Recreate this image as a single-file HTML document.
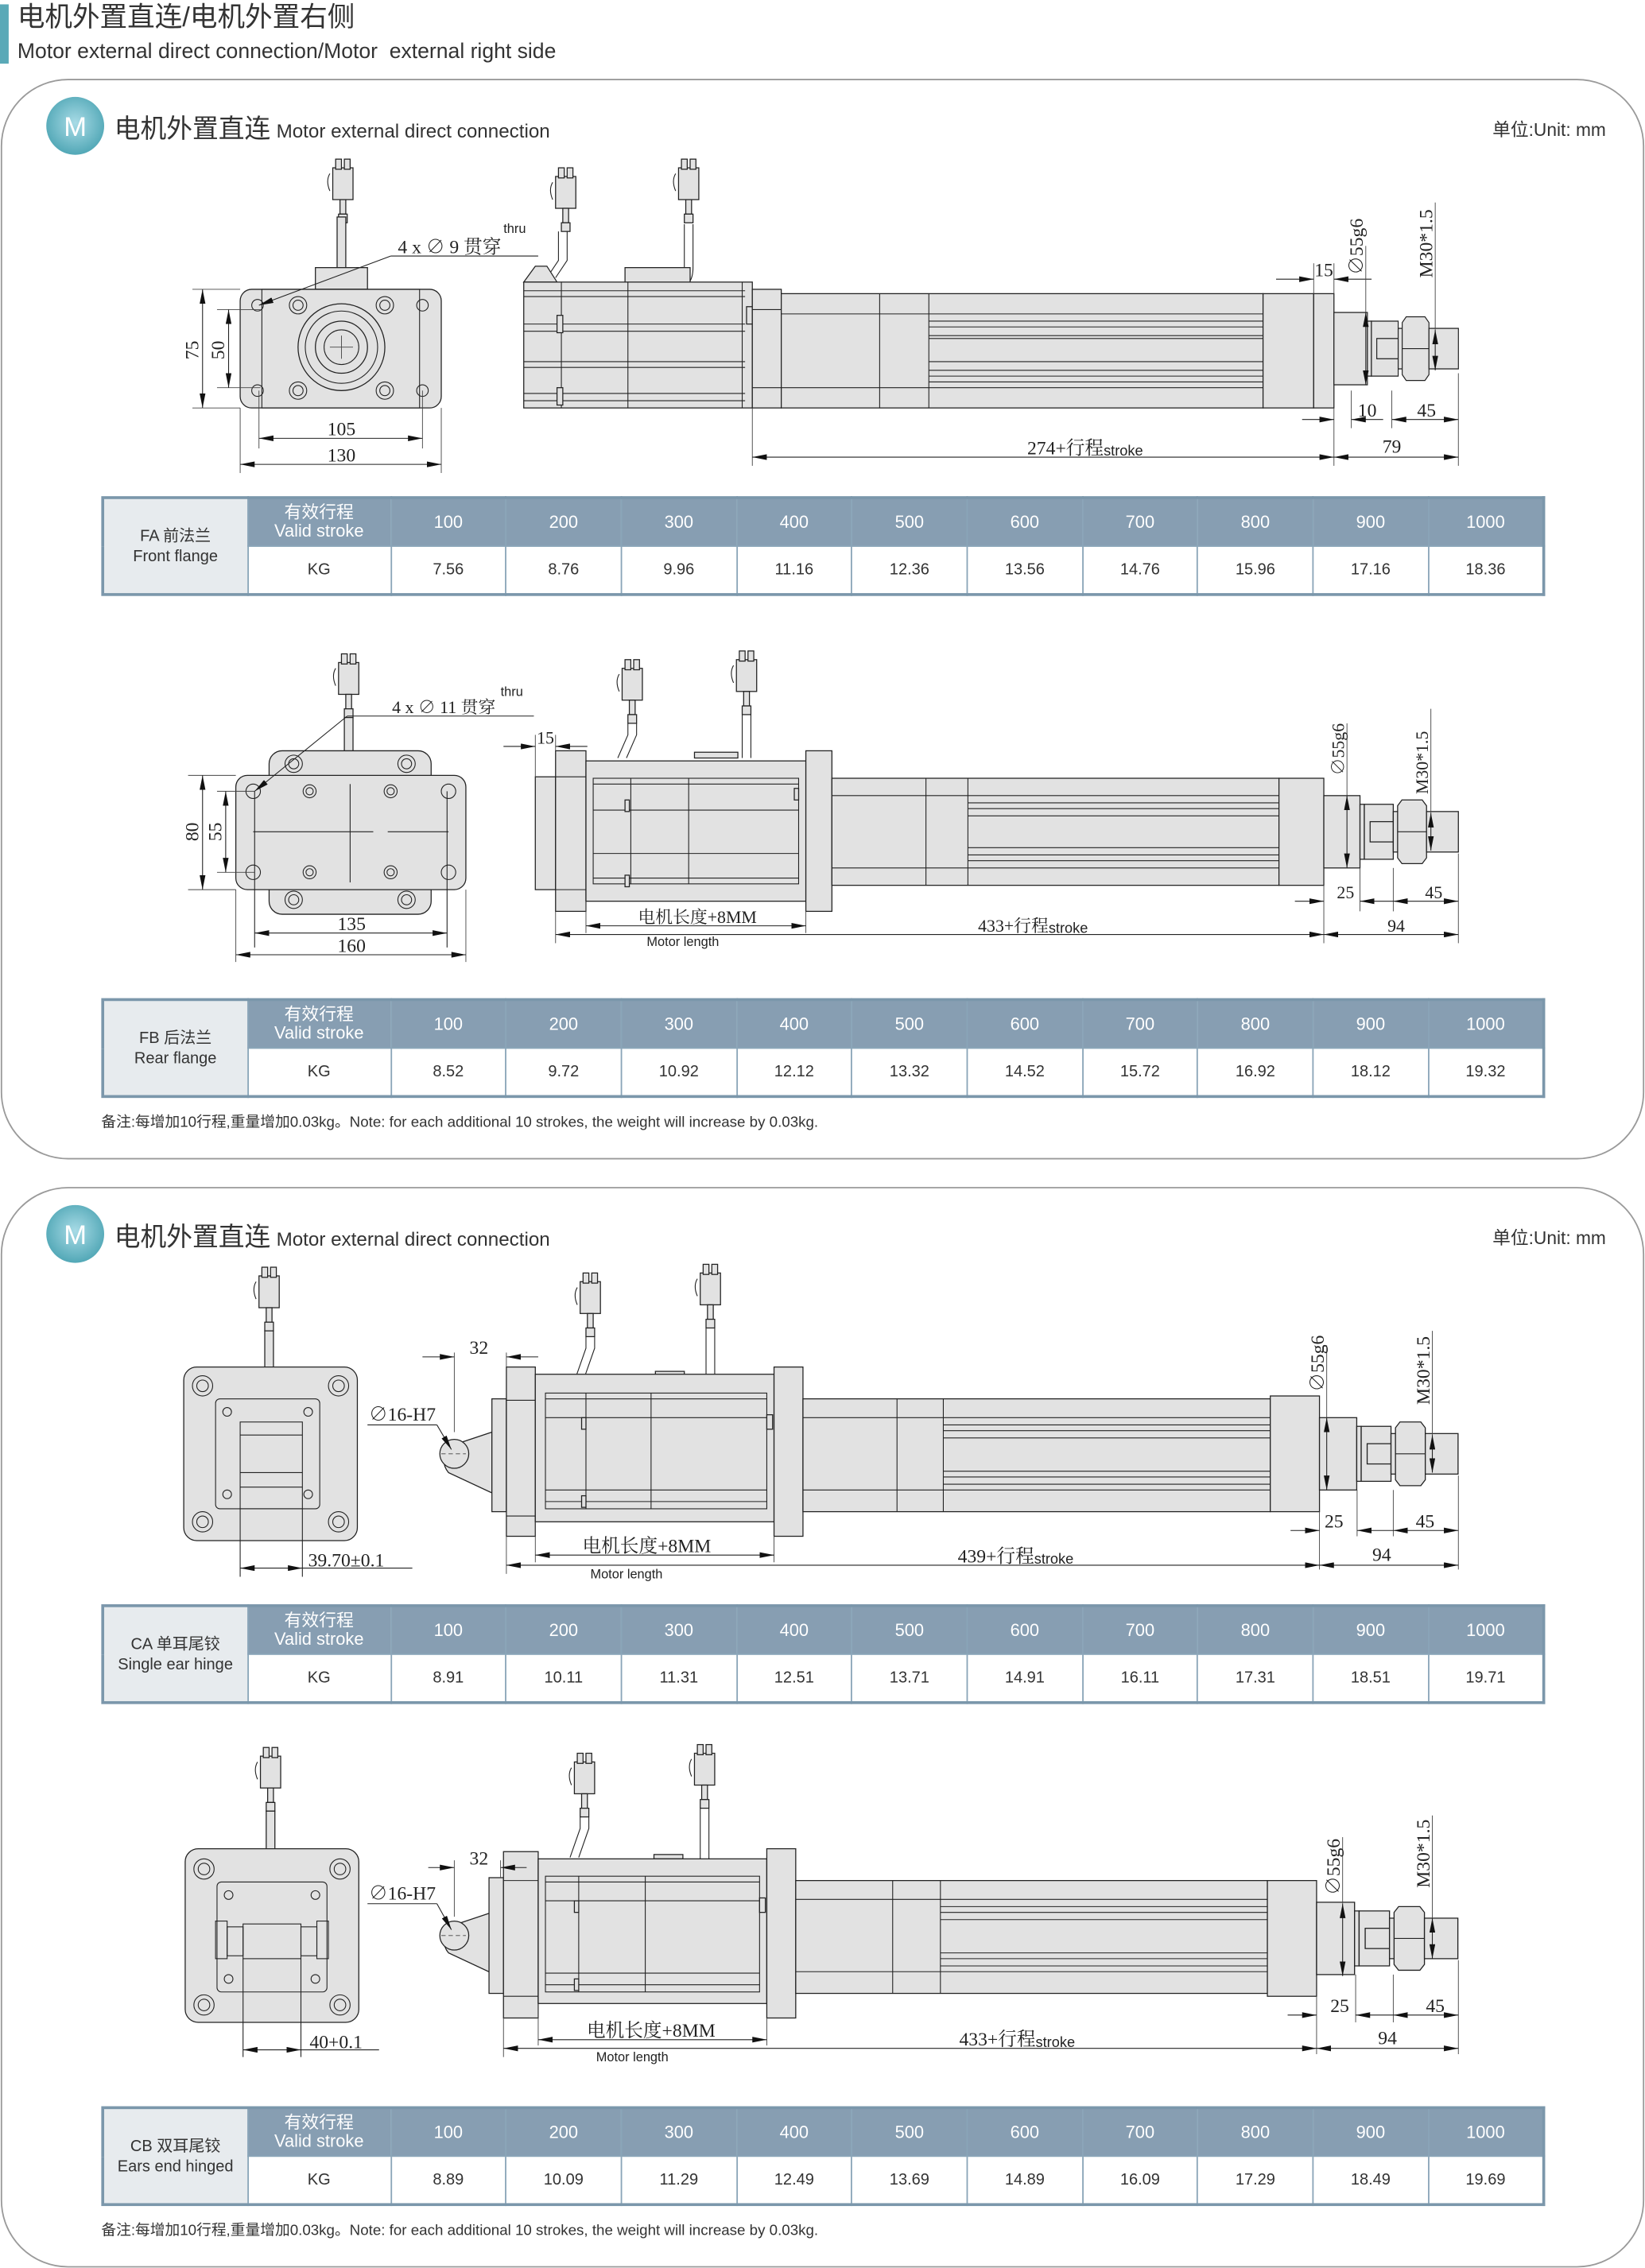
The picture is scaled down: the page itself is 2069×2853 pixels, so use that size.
<!DOCTYPE html>
<html><head><meta charset="utf-8">
<style>
html,body{margin:0;padding:0;background:#fff;}
body{width:2069px;height:2853px;overflow:hidden;position:relative;}
#w{position:absolute;left:0;top:0;width:1137px;height:1568px;transform:scale(1.81971);transform-origin:0 0;font-family:"Liberation Sans","Noto Sans CJK SC",sans-serif;color:#333;}
.abs{position:absolute;}
table.t{position:absolute;left:70px;width:996px;height:66px;border-collapse:collapse;table-layout:fixed;font-family:"Liberation Sans","Noto Sans CJK SC",sans-serif;}
table.t td{border:1px solid #8aa5b8;text-align:center;font-size:11px;padding:0;color:#333;}
table.t tr.h td{background:#879eb2;color:#fff;height:32px;font-size:12px;}
table.t tr.b td{background:#fff;height:32px;}
table.t tr.h td.f{background:#e7ebee;color:#333;font-size:11px;line-height:14px;border-left:2px solid #7b97ab;}
table.t{border-top:2px solid #7b97ab;border-bottom:2px solid #7b97ab;border-right:2px solid #7b97ab;}
table.t td.vs{line-height:13px;font-size:11px;}
svg text{font-family:"Liberation Serif","Noto Serif CJK SC",serif;fill:#222;}
.s{fill:#e2e2e2;stroke:#222;stroke-width:.7;}
.l{stroke:#222;stroke-width:.6;fill:none;}
.g{stroke:#444;stroke-width:.5;fill:none;}
</style></head><body><div id="w">

<div class="abs" style="left:0;top:3px;width:6px;height:41px;background:#5aa9b7"></div>
<div class="abs" style="left:12px;top:1px;font-size:19px;line-height:24px;font-family:'Liberation Sans','Noto Sans CJK SC',sans-serif;color:#333">电机外置直连/电机外置右侧</div>
<div class="abs" style="left:12px;top:27px;font-size:14.6px;line-height:18px;color:#333">Motor external direct connection/Motor&nbsp; external right side</div>

<svg class="abs" style="left:0;top:0" width="1137" height="1568" viewBox="0 0 1137 1568">
<defs>
<marker id="a" viewBox="0 0 10 4" refX="10" refY="2" markerWidth="10" markerHeight="4" markerUnits="userSpaceOnUse" orient="auto-start-reverse"><path d="M0,0L10,2L0,4z" fill="#111"/></marker>
<radialGradient id="cg" cx="50%" cy="45%" r="60%"><stop offset="0" stop-color="#a8dbe6"/><stop offset="1" stop-color="#4aa3b2"/></radialGradient>
<g id="conn">
 <rect x="-7" y="0" width="14" height="22" class="s"/>
 <rect x="-5" y="-6" width="4" height="7" class="s"/><rect x="1" y="-6" width="4" height="7" class="s"/>
 <path d="M-9,4 q-3,5 0,12" class="l"/>
 <rect x="-2" y="22" width="4" height="10" class="s"/>
 <rect x="-3" y="32" width="6" height="6" class="s"/>
</g>
<g id="rodend">
 <rect x="0" y="-25" width="25" height="50" class="s"/>
 <rect x="25" y="-19" width="3" height="38" class="s"/>
 <rect x="28" y="-19" width="20" height="38" class="s"/>
 <rect x="32" y="-7" width="16" height="14" class="s"/>
 <rect x="48" y="-14" width="4" height="28" class="s"/>
 <path d="M54,-22h14l3,4v36l-3,4h-14l-3,-4v-36z" class="s"/><line x1="51" y1="0" x2="71" y2="0" class="l"/>
 <rect x="71" y="-14" width="22" height="28" class="s"/>
</g>
</defs>

<rect x="1" y="55" width="1135" height="746" rx="46" fill="none" stroke="#9a9a9a" stroke-width="1"/>
<rect x="1" y="821" width="1135" height="746" rx="46" fill="none" stroke="#9a9a9a" stroke-width="1"/>

<circle cx="52" cy="87" r="20" fill="url(#cg)"/>
<text x="52" y="94" text-anchor="middle" style="font-family:'Liberation Sans',sans-serif;fill:#fff;font-size:19px">M</text>
<text x="79" y="95" style="font-family:'Liberation Sans','Noto Sans CJK SC',sans-serif;font-size:18px;fill:#333">电机外置直连</text>
<text x="191" y="95" style="font-family:'Liberation Sans',sans-serif;font-size:13.3px;fill:#333">Motor external direct connection</text>
<text x="1110" y="94" text-anchor="end" style="font-family:'Liberation Sans','Noto Sans CJK SC',sans-serif;font-size:12.5px;fill:#333">单位:Unit: mm</text>

<circle cx="52" cy="853" r="20" fill="url(#cg)"/>
<text x="52" y="860" text-anchor="middle" style="font-family:'Liberation Sans',sans-serif;fill:#fff;font-size:19px">M</text>
<text x="79" y="861" style="font-family:'Liberation Sans','Noto Sans CJK SC',sans-serif;font-size:18px;fill:#333">电机外置直连</text>
<text x="191" y="861" style="font-family:'Liberation Sans',sans-serif;font-size:13.3px;fill:#333">Motor external direct connection</text>
<text x="1110" y="860" text-anchor="end" style="font-family:'Liberation Sans','Noto Sans CJK SC',sans-serif;font-size:12.5px;fill:#333">单位:Unit: mm</text>

<!-- ============ DRAWING 1: FA ============ -->
<use href="#conn" x="237" y="116"/>
<rect x="233" y="150" width="6" height="35" class="s"/>
<rect x="218" y="185" width="36" height="15" class="s"/>
<rect x="166" y="200" width="139" height="82" rx="8" class="s"/>
<rect x="181" y="200" width="109" height="82" class="l"/>
<circle cx="178" cy="211" r="4" class="l"/><circle cx="292" cy="211" r="4" class="l"/><circle cx="178" cy="270" r="4" class="l"/><circle cx="292" cy="270" r="4" class="l"/>
<g class="l"><circle cx="206" cy="211" r="6"/><circle cx="206" cy="211" r="3.5"/><circle cx="266" cy="211" r="6"/><circle cx="266" cy="211" r="3.5"/><circle cx="206" cy="270" r="6"/><circle cx="206" cy="270" r="3.5"/><circle cx="266" cy="270" r="6"/><circle cx="266" cy="270" r="3.5"/></g>
<circle cx="236" cy="240" r="30" class="s"/><circle cx="236" cy="240" r="25" class="l"/><circle cx="236" cy="240" r="18" class="s"/><circle cx="236" cy="240" r="12" class="l"/>
<line x1="236" y1="232" x2="236" y2="248" class="g"/><line x1="228" y1="240" x2="244" y2="240" class="g"/>
<line x1="179" y1="211" x2="270" y2="177" class="l" marker-start="url(#a)"/><line x1="270" y1="177" x2="372" y2="177" class="l"/>
<text x="275" y="175" font-size="13">4 x ∅ 9 贯穿</text><text x="348" y="161" font-size="9" style="font-family:'Liberation Sans',sans-serif">thru</text>
<line x1="133" y1="200" x2="166" y2="200" class="g"/><line x1="133" y1="282" x2="166" y2="282" class="g"/>
<line x1="140" y1="200" x2="140" y2="282" class="l" marker-start="url(#a)" marker-end="url(#a)"/>
<text x="137" y="242" font-size="13" transform="rotate(-90 137 242)" text-anchor="middle">75</text>
<line x1="150" y1="214" x2="180" y2="214" class="g"/><line x1="150" y1="268" x2="180" y2="268" class="g"/>
<line x1="158" y1="214" x2="158" y2="268" class="l" marker-start="url(#a)" marker-end="url(#a)"/>
<text x="155" y="242" font-size="13" transform="rotate(-90 155 242)" text-anchor="middle">50</text>
<line x1="179" y1="270" x2="179" y2="310" class="g"/><line x1="292" y1="270" x2="292" y2="310" class="g"/>
<line x1="179" y1="303" x2="292" y2="303" class="l" marker-start="url(#a)" marker-end="url(#a)"/><text x="236" y="301" font-size="13" text-anchor="middle">105</text>
<line x1="166" y1="282" x2="166" y2="327" class="g"/><line x1="305" y1="282" x2="305" y2="327" class="g"/>
<line x1="166" y1="321" x2="305" y2="321" class="l" marker-start="url(#a)" marker-end="url(#a)"/><text x="236" y="319" font-size="13" text-anchor="middle">130</text>

<use href="#conn" x="391" y="122"/>
<path d="M386,160 v20 l-8,12 M392,160 v20 l-8,12" class="l"/>
<use href="#conn" x="476" y="116"/>
<path d="M473,155 v30 q0,8 -8,10 M479,155 v30 q0,14 -12,15" class="l"/>
<path d="M362,195 l8,-11 h8 l7,11z" class="s"/>
<rect x="432" y="185" width="45" height="11" class="s"/>
<rect x="362" y="195" width="158" height="87" class="s"/>
<g class="l"><line x1="362" y1="201" x2="515" y2="201"/><line x1="362" y1="205" x2="515" y2="205"/><line x1="362" y1="224" x2="515" y2="224"/><line x1="362" y1="229" x2="515" y2="229"/><line x1="362" y1="250" x2="515" y2="250"/><line x1="362" y1="254" x2="515" y2="254"/><line x1="362" y1="272" x2="515" y2="272"/><line x1="362" y1="277" x2="515" y2="277"/><line x1="388" y1="195" x2="388" y2="282"/><line x1="434" y1="195" x2="434" y2="282"/><line x1="513" y1="195" x2="513" y2="282"/></g>
<rect x="385" y="218" width="4" height="12" class="s"/><rect x="385" y="268" width="4" height="12" class="s"/><rect x="516" y="212" width="4" height="12" class="s"/>
<rect x="520" y="200" width="20" height="82" class="s"/><line x1="520" y1="214" x2="540" y2="214" class="l"/><line x1="520" y1="268" x2="540" y2="268" class="l"/>
<rect x="540" y="203" width="333" height="79" class="s"/>
<g class="l"><line x1="540" y1="217" x2="873" y2="217"/><line x1="540" y1="268" x2="873" y2="268"/><line x1="608" y1="203" x2="608" y2="282"/><line x1="642" y1="203" x2="642" y2="282"/>
<line x1="642" y1="222" x2="873" y2="222"/><line x1="642" y1="226" x2="873" y2="226"/><line x1="642" y1="232" x2="873" y2="232"/><line x1="642" y1="234" x2="873" y2="234"/><line x1="642" y1="250" x2="873" y2="250"/><line x1="642" y1="256" x2="873" y2="256"/><line x1="642" y1="260" x2="873" y2="260"/><line x1="642" y1="264" x2="873" y2="264"/></g>
<rect x="873" y="203" width="35" height="79" class="s"/><rect x="908" y="203" width="14" height="79" class="s"/>
<g transform="translate(922,241) scale(0.925,1)"><use href="#rodend"/></g>
<line x1="908" y1="182" x2="908" y2="203" class="g"/><line x1="922" y1="182" x2="922" y2="203" class="g"/>
<line x1="882" y1="193" x2="908" y2="193" class="l" marker-end="url(#a)"/><line x1="948" y1="193" x2="922" y2="193" class="l" marker-end="url(#a)"/><text x="915" y="191" font-size="13" text-anchor="middle">15</text>
<line x1="944" y1="216" x2="944" y2="266" class="l" marker-start="url(#a)" marker-end="url(#a)"/>
<line x1="944" y1="216" x2="944" y2="170" class="g"/>
<text x="942" y="190" font-size="13" transform="rotate(-90 942 190)">∅55g6</text>
<line x1="992" y1="228" x2="992" y2="256" class="l" marker-start="url(#a)" marker-end="url(#a)"/><line x1="992" y1="140" x2="992" y2="228" class="g"/>
<text x="990" y="192" font-size="13" transform="rotate(-90 990 192)">M30*1.5</text>
<line x1="922" y1="282" x2="922" y2="322" class="g"/><line x1="934" y1="270" x2="934" y2="296" class="g"/><line x1="962" y1="270" x2="962" y2="296" class="g"/><line x1="1008" y1="258" x2="1008" y2="322" class="g"/>
<line x1="900" y1="290" x2="922" y2="290" class="l" marker-end="url(#a)"/><line x1="956" y1="290" x2="934" y2="290" class="l" marker-end="url(#a)"/><text x="945" y="288" font-size="13" text-anchor="middle">10</text>
<line x1="962" y1="290" x2="1008" y2="290" class="l" marker-start="url(#a)" marker-end="url(#a)"/><text x="986" y="288" font-size="13" text-anchor="middle">45</text>
<line x1="520" y1="282" x2="520" y2="322" class="g"/>
<line x1="520" y1="316" x2="922" y2="316" class="l" marker-start="url(#a)" marker-end="url(#a)"/><line x1="922" y1="316" x2="1008" y2="316" class="l" marker-start="url(#a)" marker-end="url(#a)"/>
<text x="710" y="314" font-size="13">274+行程<tspan font-size="10" style="font-family:'Liberation Sans',sans-serif" dy="1">stroke</tspan></text>
<text x="962" y="313" font-size="13" text-anchor="middle">79</text>

<!-- ============ DRAWING 2: FB ============ -->
<use href="#conn" x="241" y="458"/>
<rect x="238" y="496" width="6" height="24" class="s"/>
<rect x="186" y="519" width="112" height="113" rx="9" class="s"/>
<rect x="163" y="536" width="159" height="79" rx="8" class="s"/>
<g class="l"><circle cx="203" cy="528" r="6"/><circle cx="203" cy="528" r="3.5"/><circle cx="281" cy="528" r="6"/><circle cx="281" cy="528" r="3.5"/><circle cx="203" cy="622" r="6"/><circle cx="203" cy="622" r="3.5"/><circle cx="281" cy="622" r="6"/><circle cx="281" cy="622" r="3.5"/>
<circle cx="175" cy="547" r="5"/><circle cx="310" cy="547" r="5"/><circle cx="175" cy="603" r="5"/><circle cx="310" cy="603" r="5"/>
<circle cx="214" cy="547" r="4.5"/><circle cx="270" cy="547" r="4.5"/><circle cx="214" cy="603" r="4.5"/><circle cx="270" cy="603" r="4.5"/>
<circle cx="214" cy="547" r="2.5"/><circle cx="270" cy="547" r="2.5"/><circle cx="214" cy="603" r="2.5"/><circle cx="270" cy="603" r="2.5"/>
<line x1="242" y1="542" x2="242" y2="610"/><line x1="175" y1="575" x2="258" y2="575"/><line x1="268" y1="575" x2="310" y2="575"/>
<line x1="176" y1="547" x2="176" y2="655"/><line x1="309" y1="547" x2="309" y2="655"/></g>
<line x1="176" y1="547" x2="240" y2="495" class="l" marker-start="url(#a)"/><line x1="240" y1="495" x2="369" y2="495" class="l"/>
<text x="271" y="493" font-size="12">4 x ∅ 11 贯穿</text><text x="346" y="481" font-size="9" style="font-family:'Liberation Sans',sans-serif">thru</text>
<line x1="130" y1="536" x2="163" y2="536" class="g"/><line x1="130" y1="615" x2="163" y2="615" class="g"/><line x1="150" y1="547" x2="176" y2="547" class="g"/><line x1="150" y1="603" x2="176" y2="603" class="g"/>
<line x1="140" y1="536" x2="140" y2="615" class="l" marker-start="url(#a)" marker-end="url(#a)"/><text x="137" y="575" font-size="13" transform="rotate(-90 137 575)" text-anchor="middle">80</text>
<line x1="156" y1="547" x2="156" y2="603" class="l" marker-start="url(#a)" marker-end="url(#a)"/><text x="153" y="575" font-size="13" transform="rotate(-90 153 575)" text-anchor="middle">55</text>
<line x1="176" y1="645" x2="309" y2="645" class="l" marker-start="url(#a)" marker-end="url(#a)"/><text x="243" y="643" font-size="13" text-anchor="middle">135</text>
<line x1="163" y1="615" x2="163" y2="665" class="g"/><line x1="322" y1="615" x2="322" y2="665" class="g"/>
<line x1="163" y1="660" x2="322" y2="660" class="l" marker-start="url(#a)" marker-end="url(#a)"/><text x="243" y="658" font-size="13" text-anchor="middle">160</text>

<use href="#conn" x="437" y="462"/>
<path d="M434,500 v8 l-7,16 M440,500 v8 l-7,16" class="l"/>
<use href="#conn" x="516" y="456"/>
<path d="M513,494 v30 M519,494 v30" class="l"/>
<rect x="480" y="520" width="30" height="4" class="s"/>
<rect x="370" y="537" width="14" height="78" class="s"/>
<rect x="384" y="519" width="21" height="111" class="s"/>
<rect x="405" y="526" width="152" height="97" class="s"/>
<g class="l"><rect x="410" y="538" width="142" height="73"/><line x1="410" y1="542" x2="552" y2="542"/><line x1="410" y1="560" x2="552" y2="560"/><line x1="410" y1="590" x2="552" y2="590"/><line x1="410" y1="607" x2="552" y2="607"/><line x1="436" y1="538" x2="436" y2="611"/><line x1="476" y1="538" x2="476" y2="611"/><line x1="384" y1="537" x2="405" y2="537"/><line x1="384" y1="615" x2="405" y2="615"/></g>
<rect x="432" y="553" width="3" height="8" class="s"/><rect x="432" y="605" width="3" height="8" class="s"/><rect x="549" y="545" width="3" height="8" class="s"/>
<rect x="557" y="519" width="18" height="111" class="s"/>
<rect x="575" y="538" width="309" height="74" class="s"/>
<g class="l"><line x1="575" y1="550" x2="884" y2="550"/><line x1="575" y1="600" x2="884" y2="600"/><line x1="640" y1="538" x2="640" y2="612"/><line x1="669" y1="538" x2="669" y2="612"/>
<line x1="669" y1="555" x2="884" y2="555"/><line x1="669" y1="559" x2="884" y2="559"/><line x1="669" y1="564" x2="884" y2="564"/><line x1="669" y1="586" x2="884" y2="586"/><line x1="669" y1="591" x2="884" y2="591"/><line x1="669" y1="595" x2="884" y2="595"/></g>
<rect x="884" y="538" width="31" height="74" class="s"/>
<use href="#rodend" x="915" y="575"/>
<line x1="370" y1="508" x2="370" y2="537" class="g"/><line x1="384" y1="508" x2="384" y2="519" class="g"/>
<line x1="348" y1="516" x2="370" y2="516" class="l" marker-end="url(#a)"/><line x1="406" y1="516" x2="384" y2="516" class="l" marker-end="url(#a)"/><text x="377" y="514" font-size="12" text-anchor="middle">15</text>
<line x1="931" y1="550" x2="931" y2="600" class="l" marker-start="url(#a)" marker-end="url(#a)"/><line x1="931" y1="500" x2="931" y2="550" class="g"/>
<text x="929" y="536" font-size="12" transform="rotate(-90 929 536)">∅55g6</text>
<line x1="989" y1="562" x2="989" y2="588" class="l" marker-start="url(#a)" marker-end="url(#a)"/><line x1="989" y1="490" x2="989" y2="562" class="g"/>
<text x="987" y="549" font-size="12" transform="rotate(-90 987 549)">M30*1.5</text>
<line x1="915" y1="612" x2="915" y2="652" class="g"/><line x1="940" y1="600" x2="940" y2="630" class="g"/><line x1="963" y1="600" x2="963" y2="630" class="g"/><line x1="1008" y1="590" x2="1008" y2="652" class="g"/>
<line x1="895" y1="623" x2="915" y2="623" class="l" marker-end="url(#a)"/><line x1="940" y1="623" x2="963" y2="623" class="l" marker-start="url(#a)"/><text x="930" y="621" font-size="12" text-anchor="middle">25</text>
<line x1="963" y1="623" x2="1008" y2="623" class="l" marker-start="url(#a)" marker-end="url(#a)"/><text x="991" y="621" font-size="12" text-anchor="middle">45</text>
<line x1="384" y1="630" x2="384" y2="652" class="g"/><line x1="405" y1="623" x2="405" y2="645" class="g"/><line x1="557" y1="630" x2="557" y2="645" class="g"/>
<line x1="405" y1="640" x2="557" y2="640" class="l" marker-start="url(#a)" marker-end="url(#a)"/><text x="482" y="638" font-size="12" text-anchor="middle">电机长度+8MM</text>
<text x="472" y="654" font-size="9" text-anchor="middle" style="font-family:'Liberation Sans',sans-serif">Motor length</text>
<line x1="384" y1="646" x2="915" y2="646" class="l" marker-start="url(#a)" marker-end="url(#a)"/><line x1="915" y1="646" x2="1008" y2="646" class="l" marker-start="url(#a)" marker-end="url(#a)"/>
<text x="676" y="644" font-size="12">433+行程<tspan font-size="10" style="font-family:'Liberation Sans',sans-serif" dy="1">stroke</tspan></text>
<text x="965" y="644" font-size="12" text-anchor="middle">94</text>

<!-- ============ DRAWING 3: CA ============ -->
<use href="#conn" x="186" y="882"/>
<rect x="183" y="920" width="6" height="26" class="s"/>
<rect x="127" y="945" width="120" height="120" rx="9" class="s"/>
<g class="l"><circle cx="140" cy="958" r="7"/><circle cx="140" cy="958" r="4"/><circle cx="234" cy="958" r="7"/><circle cx="234" cy="958" r="4"/><circle cx="140" cy="1052" r="7"/><circle cx="140" cy="1052" r="4"/><circle cx="234" cy="1052" r="7"/><circle cx="234" cy="1052" r="4"/>
<rect x="149" y="967" width="72" height="76" rx="3"/><circle cx="157" cy="976" r="3"/><circle cx="213" cy="976" r="3"/><circle cx="157" cy="1033" r="3"/><circle cx="213" cy="1033" r="3"/>
<rect x="166" y="983" width="43" height="60"/><line x1="166" y1="992" x2="209" y2="992"/><line x1="166" y1="1018" x2="209" y2="1018"/><line x1="166" y1="1028" x2="209" y2="1028"/>
<line x1="166" y1="1043" x2="166" y2="1090"/><line x1="209" y1="1043" x2="209" y2="1090"/></g>
<line x1="166" y1="1084" x2="209" y2="1084" class="l" marker-start="url(#a)" marker-end="url(#a)"/><line x1="209" y1="1084" x2="285" y2="1084" class="l"/>
<text x="213" y="1083" font-size="13">39.70±0.1</text>

<use href="#conn" x="408" y="886"/>
<path d="M405,924 v8 l-7,20 M411,924 v8 l-7,20" class="l"/>
<use href="#conn" x="491" y="880"/>
<path d="M488,918 v33 M494,918 v33" class="l"/>
<rect x="453" y="948" width="20" height="3" class="s"/>
<path d="M340,990 l-30,10 a14,14 0 0 0 0,18 l30,14z" class="s"/>
<circle cx="314" cy="1005" r="10" class="s"/><line x1="305" y1="1005" x2="322" y2="1005" class="g" stroke-dasharray="3,2"/>
<rect x="340" y="967" width="10" height="78" class="s"/>
<rect x="350" y="945" width="20" height="117" class="s"/>
<rect x="370" y="950" width="165" height="102" class="s"/>
<g class="l"><rect x="377" y="963" width="153" height="80"/><line x1="377" y1="967" x2="530" y2="967"/><line x1="377" y1="980" x2="530" y2="980"/><line x1="377" y1="1030" x2="530" y2="1030"/><line x1="377" y1="1038" x2="530" y2="1038"/><line x1="405" y1="963" x2="405" y2="1043"/><line x1="450" y1="963" x2="450" y2="1043"/><line x1="350" y1="968" x2="370" y2="968"/><line x1="350" y1="1048" x2="370" y2="1048"/></g>
<rect x="402" y="980" width="3" height="8" class="s"/><rect x="402" y="1034" width="3" height="8" class="s"/><rect x="530" y="978" width="4" height="10" class="s"/>
<rect x="535" y="945" width="20" height="117" class="s"/>
<rect x="555" y="967" width="323" height="78" class="s"/>
<g class="l"><line x1="555" y1="980" x2="878" y2="980"/><line x1="555" y1="1030" x2="878" y2="1030"/><line x1="620" y1="967" x2="620" y2="1045"/><line x1="652" y1="967" x2="652" y2="1045"/>
<line x1="652" y1="985" x2="878" y2="985"/><line x1="652" y1="989" x2="878" y2="989"/><line x1="652" y1="994" x2="878" y2="994"/><line x1="652" y1="1017" x2="878" y2="1017"/><line x1="652" y1="1021" x2="878" y2="1021"/><line x1="652" y1="1026" x2="878" y2="1026"/></g>
<rect x="878" y="965" width="34" height="80" class="s"/>
<g transform="translate(912,1005) scale(1.03,1)"><use href="#rodend"/></g>
<line x1="314" y1="990" x2="314" y2="935" class="g"/><line x1="350" y1="935" x2="350" y2="945" class="g"/>
<line x1="292" y1="938" x2="314" y2="938" class="l" marker-end="url(#a)"/><line x1="372" y1="938" x2="350" y2="938" class="l" marker-end="url(#a)"/><text x="331" y="936" font-size="13" text-anchor="middle">32</text>
<line x1="254" y1="985" x2="302" y2="985" class="l"/><line x1="302" y1="985" x2="312" y2="1002" class="l" marker-end="url(#a)"/>
<text x="255" y="982" font-size="13">∅16-H7</text>
<line x1="917" y1="980" x2="917" y2="1030" class="l" marker-start="url(#a)" marker-end="url(#a)"/><line x1="917" y1="980" x2="917" y2="930" class="g"/>
<text x="915" y="962" font-size="13" transform="rotate(-90 915 962)">∅55g6</text>
<line x1="990" y1="992" x2="990" y2="1018" class="l" marker-start="url(#a)" marker-end="url(#a)"/><line x1="990" y1="920" x2="990" y2="992" class="g"/>
<text x="988" y="971" font-size="13" transform="rotate(-90 988 971)">M30*1.5</text>
<line x1="912" y1="1045" x2="912" y2="1085" class="g"/><line x1="938" y1="1030" x2="938" y2="1062" class="g"/><line x1="963" y1="1030" x2="963" y2="1062" class="g"/><line x1="1008" y1="1020" x2="1008" y2="1085" class="g"/>
<line x1="892" y1="1058" x2="912" y2="1058" class="l" marker-end="url(#a)"/><line x1="938" y1="1058" x2="963" y2="1058" class="l" marker-start="url(#a)"/><text x="922" y="1056" font-size="13" text-anchor="middle">25</text>
<line x1="963" y1="1058" x2="1008" y2="1058" class="l" marker-start="url(#a)" marker-end="url(#a)"/><text x="985" y="1056" font-size="13" text-anchor="middle">45</text>
<line x1="350" y1="1062" x2="350" y2="1088" class="g"/><line x1="370" y1="1052" x2="370" y2="1080" class="g"/><line x1="535" y1="1062" x2="535" y2="1080" class="g"/>
<line x1="370" y1="1075" x2="535" y2="1075" class="l" marker-start="url(#a)" marker-end="url(#a)"/><text x="447" y="1073" font-size="13" text-anchor="middle">电机长度+8MM</text>
<text x="433" y="1091" font-size="9" text-anchor="middle" style="font-family:'Liberation Sans',sans-serif">Motor length</text>
<line x1="350" y1="1082" x2="912" y2="1082" class="l" marker-start="url(#a)" marker-end="url(#a)"/><line x1="912" y1="1082" x2="1008" y2="1082" class="l" marker-start="url(#a)" marker-end="url(#a)"/>
<text x="662" y="1080" font-size="13">439+行程<tspan font-size="10" style="font-family:'Liberation Sans',sans-serif" dy="1">stroke</tspan></text>
<text x="955" y="1079" font-size="13" text-anchor="middle">94</text>

<!-- ============ DRAWING 4: CB ============ -->
<use href="#conn" x="187" y="1214"/>
<rect x="184" y="1252" width="6" height="27" class="s"/>
<rect x="128" y="1278" width="120" height="120" rx="9" class="s"/>
<g class="l"><circle cx="141" cy="1292" r="7"/><circle cx="141" cy="1292" r="4"/><circle cx="235" cy="1292" r="7"/><circle cx="235" cy="1292" r="4"/><circle cx="141" cy="1386" r="7"/><circle cx="141" cy="1386" r="4"/><circle cx="235" cy="1386" r="7"/><circle cx="235" cy="1386" r="4"/>
<rect x="150" y="1301" width="76" height="76" rx="3"/><circle cx="158" cy="1310" r="3"/><circle cx="218" cy="1310" r="3"/><circle cx="158" cy="1368" r="3"/><circle cx="218" cy="1368" r="3"/>
<rect x="168" y="1330" width="40" height="24"/><rect x="149" y="1328" width="8" height="26"/><rect x="219" y="1328" width="8" height="26"/><rect x="157" y="1332" width="11" height="20"/><rect x="208" y="1332" width="11" height="20"/>
<line x1="168" y1="1354" x2="168" y2="1422"/><line x1="208" y1="1354" x2="208" y2="1422"/></g>
<line x1="168" y1="1417" x2="208" y2="1417" class="l" marker-start="url(#a)" marker-end="url(#a)"/><line x1="208" y1="1417" x2="262" y2="1417" class="l"/>
<text x="214" y="1416" font-size="13">40+0.1</text>

<use href="#conn" x="404" y="1218"/>
<path d="M401,1256 v8 l-7,20 M407,1256 v8 l-7,20" class="l"/>
<use href="#conn" x="487" y="1212"/>
<path d="M484,1250 v35 M490,1250 v35" class="l"/>
<rect x="452" y="1282" width="20" height="3" class="s"/>
<path d="M340,1322 l-30,10 a14,14 0 0 0 0,18 l30,14z" class="s"/>
<circle cx="314" cy="1338" r="10" class="s"/><line x1="305" y1="1338" x2="322" y2="1338" class="g" stroke-dasharray="3,2"/>
<rect x="338" y="1298" width="10" height="80" class="s"/>
<rect x="348" y="1280" width="24" height="115" class="s"/>
<rect x="372" y="1285" width="158" height="100" class="s"/>
<g class="l"><rect x="377" y="1297" width="148" height="80"/><line x1="377" y1="1301" x2="525" y2="1301"/><line x1="377" y1="1314" x2="525" y2="1314"/><line x1="377" y1="1364" x2="525" y2="1364"/><line x1="377" y1="1372" x2="525" y2="1372"/><line x1="400" y1="1297" x2="400" y2="1377"/><line x1="446" y1="1297" x2="446" y2="1377"/><line x1="348" y1="1300" x2="372" y2="1300"/><line x1="348" y1="1380" x2="372" y2="1380"/></g>
<rect x="397" y="1314" width="3" height="8" class="s"/><rect x="397" y="1368" width="3" height="8" class="s"/><rect x="525" y="1312" width="4" height="10" class="s"/>
<rect x="530" y="1278" width="20" height="117" class="s"/>
<rect x="550" y="1300" width="326" height="78" class="s"/>
<g class="l"><line x1="550" y1="1313" x2="876" y2="1313"/><line x1="550" y1="1363" x2="876" y2="1363"/><line x1="617" y1="1300" x2="617" y2="1378"/><line x1="650" y1="1300" x2="650" y2="1378"/>
<line x1="650" y1="1318" x2="876" y2="1318"/><line x1="650" y1="1322" x2="876" y2="1322"/><line x1="650" y1="1327" x2="876" y2="1327"/><line x1="650" y1="1350" x2="876" y2="1350"/><line x1="650" y1="1354" x2="876" y2="1354"/><line x1="650" y1="1359" x2="876" y2="1359"/></g>
<rect x="876" y="1300" width="34" height="80" class="s"/>
<g transform="translate(910,1340) scale(1.05,1)"><use href="#rodend"/></g>
<line x1="314" y1="1325" x2="314" y2="1286" class="g"/><line x1="346" y1="1286" x2="346" y2="1298" class="g"/>
<line x1="296" y1="1291" x2="314" y2="1291" class="l" marker-end="url(#a)"/><line x1="364" y1="1291" x2="346" y2="1291" class="l" marker-end="url(#a)"/><text x="331" y="1289" font-size="13" text-anchor="middle">32</text>
<line x1="254" y1="1316" x2="302" y2="1316" class="l"/><line x1="302" y1="1316" x2="312" y2="1334" class="l" marker-end="url(#a)"/>
<text x="255" y="1313" font-size="13">∅16-H7</text>
<line x1="928" y1="1316" x2="928" y2="1366" class="l" marker-start="url(#a)" marker-end="url(#a)"/><line x1="928" y1="1316" x2="928" y2="1270" class="g"/>
<text x="926" y="1310" font-size="13" transform="rotate(-90 926 1310)">∅55g6</text>
<line x1="990" y1="1326" x2="990" y2="1354" class="l" marker-start="url(#a)" marker-end="url(#a)"/><line x1="990" y1="1255" x2="990" y2="1326" class="g"/>
<text x="988" y="1305" font-size="13" transform="rotate(-90 988 1305)">M30*1.5</text>
<line x1="910" y1="1380" x2="910" y2="1420" class="g"/><line x1="937" y1="1365" x2="937" y2="1398" class="g"/><line x1="963" y1="1365" x2="963" y2="1398" class="g"/><line x1="1008" y1="1355" x2="1008" y2="1420" class="g"/>
<line x1="890" y1="1393" x2="910" y2="1393" class="l" marker-end="url(#a)"/><line x1="937" y1="1393" x2="963" y2="1393" class="l" marker-start="url(#a)"/><text x="926" y="1391" font-size="13" text-anchor="middle">25</text>
<line x1="963" y1="1393" x2="1008" y2="1393" class="l" marker-start="url(#a)" marker-end="url(#a)"/><text x="992" y="1391" font-size="13" text-anchor="middle">45</text>
<line x1="348" y1="1395" x2="348" y2="1422" class="g"/><line x1="372" y1="1385" x2="372" y2="1414" class="g"/><line x1="530" y1="1395" x2="530" y2="1414" class="g"/>
<line x1="372" y1="1410" x2="530" y2="1410" class="l" marker-start="url(#a)" marker-end="url(#a)"/><text x="450" y="1408" font-size="13" text-anchor="middle">电机长度+8MM</text>
<text x="437" y="1425" font-size="9" text-anchor="middle" style="font-family:'Liberation Sans',sans-serif">Motor length</text>
<line x1="348" y1="1416" x2="910" y2="1416" class="l" marker-start="url(#a)" marker-end="url(#a)"/><line x1="910" y1="1416" x2="1008" y2="1416" class="l" marker-start="url(#a)" marker-end="url(#a)"/>
<text x="663" y="1414" font-size="13">433+行程<tspan font-size="10" style="font-family:'Liberation Sans',sans-serif" dy="1">stroke</tspan></text>
<text x="959" y="1413" font-size="13" text-anchor="middle">94</text>

<text x="70" y="779" style="font-family:'Liberation Sans','Noto Sans CJK SC',sans-serif;font-size:10.3px;fill:#333">备注:每增加10行程,重量增加0.03kg。Note: for each additional 10 strokes, the weight will increase by 0.03kg.</text>
<text x="70" y="1545" style="font-family:'Liberation Sans','Noto Sans CJK SC',sans-serif;font-size:10.3px;fill:#333">备注:每增加10行程,重量增加0.03kg。Note: for each additional 10 strokes, the weight will increase by 0.03kg.</text>
</svg>

<table class="t" style="top:343px"><colgroup><col style="width:100px"><col style="width:99px"><col span="10" style="width:79.7px"></colgroup>
<tr class="h"><td class="f" rowspan="2">FA 前法兰<br>Front flange</td><td class="vs">有效行程<br>Valid stroke</td><td>100</td><td>200</td><td>300</td><td>400</td><td>500</td><td>600</td><td>700</td><td>800</td><td>900</td><td>1000</td></tr>
<tr class="b"><td>KG</td><td>7.56</td><td>8.76</td><td>9.96</td><td>11.16</td><td>12.36</td><td>13.56</td><td>14.76</td><td>15.96</td><td>17.16</td><td>18.36</td></tr></table>

<table class="t" style="top:690px"><colgroup><col style="width:100px"><col style="width:99px"><col span="10" style="width:79.7px"></colgroup>
<tr class="h"><td class="f" rowspan="2">FB 后法兰<br>Rear flange</td><td class="vs">有效行程<br>Valid stroke</td><td>100</td><td>200</td><td>300</td><td>400</td><td>500</td><td>600</td><td>700</td><td>800</td><td>900</td><td>1000</td></tr>
<tr class="b"><td>KG</td><td>8.52</td><td>9.72</td><td>10.92</td><td>12.12</td><td>13.32</td><td>14.52</td><td>15.72</td><td>16.92</td><td>18.12</td><td>19.32</td></tr></table>

<table class="t" style="top:1109px"><colgroup><col style="width:100px"><col style="width:99px"><col span="10" style="width:79.7px"></colgroup>
<tr class="h"><td class="f" rowspan="2">CA 单耳尾铰<br>Single ear hinge</td><td class="vs">有效行程<br>Valid stroke</td><td>100</td><td>200</td><td>300</td><td>400</td><td>500</td><td>600</td><td>700</td><td>800</td><td>900</td><td>1000</td></tr>
<tr class="b"><td>KG</td><td>8.91</td><td>10.11</td><td>11.31</td><td>12.51</td><td>13.71</td><td>14.91</td><td>16.11</td><td>17.31</td><td>18.51</td><td>19.71</td></tr></table>

<table class="t" style="top:1456px"><colgroup><col style="width:100px"><col style="width:99px"><col span="10" style="width:79.7px"></colgroup>
<tr class="h"><td class="f" rowspan="2">CB 双耳尾铰<br>Ears end hinged</td><td class="vs">有效行程<br>Valid stroke</td><td>100</td><td>200</td><td>300</td><td>400</td><td>500</td><td>600</td><td>700</td><td>800</td><td>900</td><td>1000</td></tr>
<tr class="b"><td>KG</td><td>8.89</td><td>10.09</td><td>11.29</td><td>12.49</td><td>13.69</td><td>14.89</td><td>16.09</td><td>17.29</td><td>18.49</td><td>19.69</td></tr></table>

</div></body></html>
